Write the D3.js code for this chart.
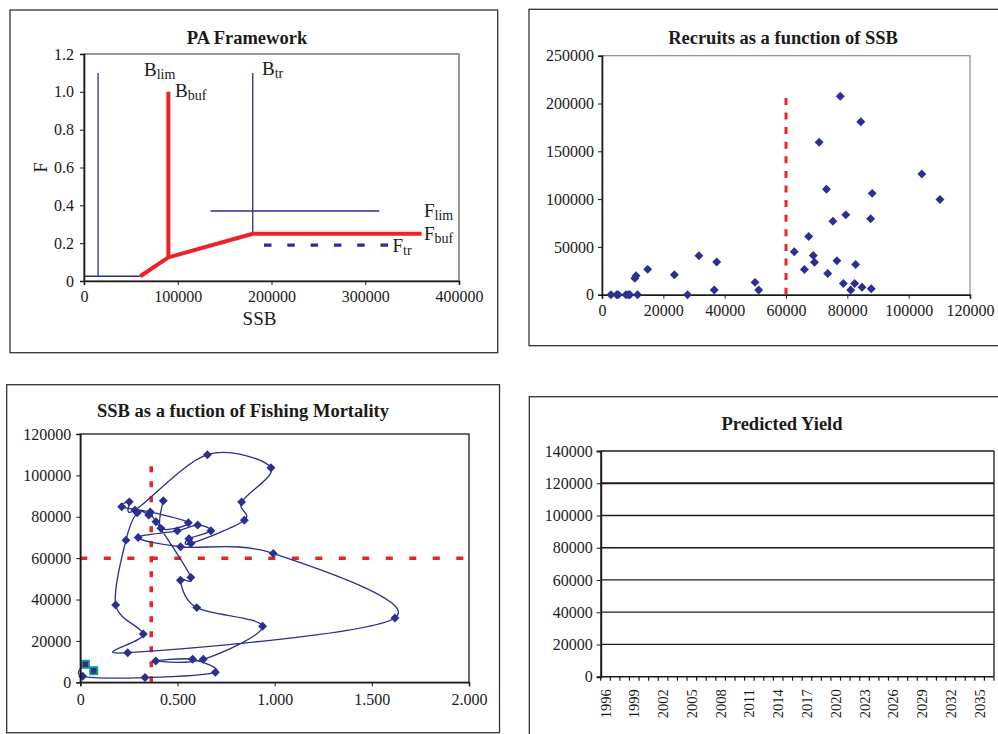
<!DOCTYPE html>
<html>
<head>
<meta charset="utf-8">
<script src="https://cdnjs.cloudflare.com/ajax/libs/d3/7.8.5/d3.min.js"></script>
<style>
  body { margin: 0; background: #fff; }
  svg, svg text { font-family: "Liberation Serif", "DejaVu Serif", serif; }
</style>
</head>
<body>
<svg id="chart" width="998" height="734"></svg>
<script>
// ---- PA framework (top left)
var paHcrSSB = [60000, 90000, 180000, 360000];
var paHcrF = [0.025, 0.125, 0.25, 0.25];
var paBbufSSB = [90000, 90000];
var paBbufF = [0.125, 1.0];
var paBlimSSB = [15000, 15000];
var paBlimF = [0.025, 1.1];
var paFloorSSB = [0, 60000];
var paFloorF = [0.025, 0.025];
var paBtrSSB = [180000, 180000];
var paBtrF = [0.25, 1.1];
var paFlimSSB = [135000, 315000];
var paFlimF = [0.37, 0.37];
var paFtrSSB = [192000, 325000];
var paFtrF = [0.19, 0.19];
var paXTicks = [0, 100000, 200000, 300000, 400000];
var paYTicks = [0, 0.2, 0.4, 0.6, 0.8, 1.0, 1.2];

// ---- recruits vs SSB (top right)
var recSSB = [2900, 4800, 5300, 7800, 8600, 9100, 10700, 11100, 11600, 14900, 23600, 27900, 31600, 37400, 36600, 49900, 51100,
  62700, 66000, 67400, 68900, 69300, 70800, 73200, 73600, 75300, 76600, 77700, 78700, 79500, 81100, 82400, 82700,
  84400, 84800, 87600, 87800, 88100, 104300, 110200];
var recR = [0, 0, 0, 0, 0, 0, 17100, 19900, 0, 26500, 20900, 0, 40800, 34200, 4900, 12900, 4900,
  45000, 26400, 60900, 41000, 34000, 159500, 110400, 22200, 76800, 35600, 207600, 11700, 83500, 4900, 11700, 31600,
  181000, 7700, 79500, 6300, 106000, 126300, 99600];
var recBlimSSB = [60000, 60000];
var recBlimR = [0, 210000];
var recXTicks = [0, 20000, 40000, 60000, 80000, 100000, 120000];
var recYTicks = [0, 50000, 100000, 150000, 200000, 250000];

// ---- SSB vs F trajectory (bottom left)
var trajF = [0.427, 0.415, 0.556, 0.360, 0.213, 0.252, 0.281, 0.654, 0.981, 0.830, 0.844, 0.569, 0.559, 0.672, 0.604,
  0.499, 0.298, 0.516, 0.993, 1.619, 0.244, 0.324, 0.182, 0.235, 0.293, 0.352, 0.389, 0.569, 0.515, 0.599,
  0.938, 0.633, 0.388, 0.578, 0.695, 0.333, 0.012, 0.026, 0.069];
var trajSSB = [87700, 74400, 77100, 82300, 84800, 87200, 83200, 110000, 103700, 87100, 78300, 67100, 69400, 73200, 76000,
  73200, 70000, 65500, 62300, 31100, 14300, 23300, 37400, 68700, 81900, 80900, 77600, 50700, 49300, 36100,
  27100, 11100, 10300, 11100, 4800, 2300, 2900, 8700, 5600];
var lastF = [0.026, 0.069];
var lastSSB = [8700, 5600];
var trajBlimF = [0, 2.0];
var trajBlimSSB = [60000, 60000];
var trajFlimF = [0.365, 0.365];
var trajFlimSSB = [0, 108000];
var trajXTicks = [0, 0.5, 1.0, 1.5, 2.0];
var trajYTicks = [0, 20000, 40000, 60000, 80000, 100000, 120000];

// ---- predicted yield (bottom right, empty in source)
var yieldYears = [1996, 1997, 1998, 1999, 2000, 2001, 2002, 2003, 2004, 2005, 2006, 2007, 2008, 2009, 2010, 2011,
  2012, 2013, 2014, 2015, 2016, 2017, 2018, 2019, 2020, 2021, 2022, 2023, 2024, 2025, 2026, 2027, 2028, 2029,
  2030, 2031, 2032, 2033, 2034, 2035, 2036];
var yieldValues = [];
var yieldYTicks = [0, 20000, 40000, 60000, 80000, 100000, 120000, 140000];

var serif = "Liberation Serif, DejaVu Serif, serif";
var navy = "#2b2f8f", red = "#ec2227", teal = "#1a9e8c", ink = "#1a1a1a";
var svg = d3.select("#chart").attr("font-family", serif);
svg.append("rect").attr("width", 998).attr("height", 734).attr("fill", "#fff");

function frame(b) {
  svg.append("rect")
    .attr("x", b[0]).attr("y", b[1])
    .attr("width", b[2] - b[0]).attr("height", b[3] - b[1])
    .attr("fill", "none").attr("stroke", "#333").attr("stroke-width", 1.3);
}

function plotBox(p, col, w) {
  svg.append("rect")
    .attr("x", p[0]).attr("y", p[1])
    .attr("width", p[2] - p[0]).attr("height", p[3] - p[1])
    .attr("fill", "none").attr("stroke", col).attr("stroke-width", w);
}

function title(x, y, txt) {
  svg.append("text").attr("x", x).attr("y", y)
    .attr("text-anchor", "middle").attr("font-weight", "bold").attr("font-family", serif)
    .attr("font-size", 18.5).attr("fill", ink).text(txt);
}

function styleAxis(g, size) {
  g.attr("font-family", serif).attr("font-size", size || 16);
  g.selectAll("text").attr("fill", ink).attr("font-family", serif);
  g.selectAll(".tick line").attr("stroke", ink);
  g.select(".domain").attr("stroke", ink).attr("stroke-width", 1.6);
}

function zipXY(xs, ys) {
  return xs.map(function(v, i) { return [v, ys[i]]; });
}

function sublabel(x, y, main, sub) {
  var t = svg.append("text").attr("x", x).attr("y", y).attr("fill", ink)
    .attr("font-family", serif).attr("font-size", 19);
  t.append("tspan").text(main);
  t.append("tspan").attr("font-size", 14).attr("dy", 3).text(sub);
}

// ================= panel 1 =================
frame([10, 10, 497.7, 352.7]);
var p1 = [84, 54, 459, 281];
var x1 = d3.scaleLinear().domain([0, 400000]).range([p1[0], p1[2]]);
var y1 = d3.scaleLinear().domain([0, 1.2]).range([p1[3], p1[1]]);
plotBox(p1, "#555", 1.2);
title(247, 44, "PA Framework");

var line1 = d3.line().x(function(d) { return x1(d[0]); }).y(function(d) { return y1(d[1]); });
var thinBlue = [zipXY(paBlimSSB, paBlimF), zipXY(paFloorSSB, paFloorF), zipXY(paBtrSSB, paBtrF), zipXY(paFlimSSB, paFlimF)];
svg.append("g").selectAll("path").data(thinBlue).enter().append("path")
  .attr("d", line1).attr("fill", "none").attr("stroke", navy).attr("stroke-width", 1.3);
svg.append("path").datum(zipXY(paFtrSSB, paFtrF)).attr("d", line1)
  .attr("fill", "none").attr("stroke", navy).attr("stroke-width", 3.3).attr("stroke-dasharray", "7.5,15.8");
svg.append("path").datum(zipXY(paHcrSSB, paHcrF)).attr("d", line1)
  .attr("fill", "none").attr("stroke", red).attr("stroke-width", 4).attr("stroke-linejoin", "round");
svg.append("path").datum(zipXY(paBbufSSB, paBbufF)).attr("d", line1)
  .attr("fill", "none").attr("stroke", red).attr("stroke-width", 4);

var ax1 = svg.append("g").attr("transform", "translate(0," + p1[3] + ")")
  .call(d3.axisBottom(x1).tickValues(paXTicks).tickSize(4).tickPadding(6).tickFormat(d3.format("d")));
styleAxis(ax1);
var ay1 = svg.append("g").attr("transform", "translate(" + p1[0] + ",0)")
  .call(d3.axisLeft(y1).tickValues(paYTicks).tickSize(4).tickPadding(6)
    .tickFormat(function(d) { return d === 0 ? "0" : d3.format(".1f")(d); }));
styleAxis(ay1);

svg.append("text").attr("x", x1(200000) - 12).attr("y", 325).attr("text-anchor", "middle")
  .attr("font-family", serif).attr("font-size", 19).attr("fill", ink).text("SSB");
svg.append("text").attr("transform", "translate(46.5," + y1(0.6) + ") rotate(-90)")
  .attr("text-anchor", "middle").attr("font-family", serif).attr("font-size", 19).attr("fill", ink).text("F");

sublabel(144, 76, "B", "lim");
sublabel(175, 96.5, "B", "buf");
sublabel(262, 75, "B", "tr");
sublabel(424, 216.5, "F", "lim");
sublabel(424, 240, "F", "buf");
sublabel(392.5, 251.5, "F", "tr");

// ================= panel 2 =================
frame([529, 9.3, 1005, 345.7]);
var p2 = [602, 55.7, 970, 294.7];
var x2 = d3.scaleLinear().domain([0, 120000]).range([p2[0], p2[2]]);
var y2 = d3.scaleLinear().domain([0, 250000]).range([p2[3], p2[1]]);
plotBox(p2, "#8c8c8c", 1.2);
title(783, 44, "Recruits as a function of SSB");

var ax2 = svg.append("g").attr("transform", "translate(0," + p2[3] + ")")
  .call(d3.axisBottom(x2).tickValues(recXTicks).tickSize(4).tickPadding(6).tickFormat(d3.format("d")));
styleAxis(ax2);
var ay2 = svg.append("g").attr("transform", "translate(" + p2[0] + ",0)")
  .call(d3.axisLeft(y2).tickValues(recYTicks).tickSize(4).tickPadding(4).tickFormat(d3.format("d")));
styleAxis(ay2);

var line2 = d3.line().x(function(d) { return x2(d[0]); }).y(function(d) { return y2(d[1]); });
svg.append("path").datum(zipXY(recBlimSSB, recBlimR)).attr("d", line2)
  .attr("fill", "none").attr("stroke", red).attr("stroke-width", 3).attr("stroke-dasharray", "7,7.6");

var diamond = d3.symbol().type(d3.symbolSquare).size(40);
svg.append("g").selectAll("path").data(zipXY(recSSB, recR)).enter().append("path")
  .attr("d", diamond)
  .attr("transform", function(d) { return "translate(" + x2(d[0]) + "," + y2(d[1]) + ") rotate(45)"; })
  .attr("fill", navy);

// ================= panel 3 =================
frame([6.7, 384.7, 499.5, 732.7]);
var p3 = [80.3, 434, 469, 682.3];
var x3 = d3.scaleLinear().domain([0, 2.0]).range([p3[0], p3[2]]);
var y3 = d3.scaleLinear().domain([0, 120000]).range([p3[3], p3[1]]);
plotBox(p3, ink, 1.3);
title(243, 417, "SSB as a fuction of Fishing Mortality");

var line3 = d3.line().x(function(d) { return x3(d[0]); }).y(function(d) { return y3(d[1]); });
svg.append("path").datum(zipXY(trajBlimF, trajBlimSSB)).attr("d", line3)
  .attr("fill", "none").attr("stroke", red).attr("stroke-width", 3.5).attr("stroke-dasharray", "7,16.5");
svg.append("path").datum(zipXY(trajFlimF, trajFlimSSB)).attr("d", line3)
  .attr("fill", "none").attr("stroke", red).attr("stroke-width", 3.5).attr("stroke-dasharray", "6,9");

var smooth3 = d3.line().curve(d3.curveCatmullRom.alpha(0))
  .x(function(d) { return x3(d[0]); }).y(function(d) { return y3(d[1]); });
var traj = zipXY(trajF, trajSSB);
svg.append("path").datum(traj).attr("d", smooth3)
  .attr("fill", "none").attr("stroke", navy).attr("stroke-width", 1.3);
svg.append("g").selectAll("path").data(traj).enter().append("path")
  .attr("d", diamond)
  .attr("transform", function(d) { return "translate(" + x3(d[0]) + "," + y3(d[1]) + ") rotate(45)"; })
  .attr("fill", navy);
var last = svg.append("g").selectAll("g").data(zipXY(lastF, lastSSB)).enter().append("g")
  .attr("transform", function(d) { return "translate(" + x3(d[0]) + "," + y3(d[1]) + ")"; });
last.append("rect").attr("x", -4.5).attr("y", -4.5).attr("width", 9).attr("height", 9).attr("fill", teal);
last.append("rect").attr("x", -2.7).attr("y", -2.7).attr("width", 5.4).attr("height", 5.4).attr("fill", navy);

var ax3 = svg.append("g").attr("transform", "translate(0," + p3[3] + ")")
  .call(d3.axisBottom(x3).tickValues(trajXTicks).tickSize(4).tickPadding(7)
    .tickFormat(function(d) { return d === 0 ? "0" : d3.format(".3f")(d); }));
styleAxis(ax3);
var ay3 = svg.append("g").attr("transform", "translate(" + p3[0] + ",0)")
  .call(d3.axisLeft(y3).tickValues(trajYTicks).tickSize(4).tickPadding(5).tickFormat(d3.format("d")));
styleAxis(ay3);

// ================= panel 4 =================
frame([529.3, 396.7, 1005, 740]);
var p4 = [600.7, 451, 994, 676.7];
var x4 = d3.scaleBand().domain(yieldYears).range([p4[0], p4[2]]);
var y4 = d3.scaleLinear().domain([0, 140000]).range([p4[3], p4[1]]);
title(782, 430, "Predicted Yield");

svg.append("g").selectAll("line").data(yieldYTicks.slice(1)).enter().append("line")
  .attr("x1", p4[0]).attr("x2", p4[2])
  .attr("y1", function(d) { return y4(d); }).attr("y2", function(d) { return y4(d); })
  .attr("stroke", ink).attr("stroke-width", function(d) { return d === 120000 ? 2 : 1.3; });
svg.append("line").attr("x1", p4[2]).attr("x2", p4[2]).attr("y1", p4[1]).attr("y2", p4[3])
  .attr("stroke", ink).attr("stroke-width", 1.3);

// empty yield series (no values in the source chart)
svg.append("path").datum(yieldValues)
  .attr("d", d3.line().x(function(d, i) { return x4(yieldYears[i]) + x4.bandwidth() / 2; }).y(function(d) { return y4(d); }))
  .attr("fill", "none").attr("stroke", navy);

var ay4 = svg.append("g").attr("transform", "translate(" + p4[0] + ",0)")
  .call(d3.axisLeft(y4).tickValues(yieldYTicks).tickSize(4).tickPadding(4).tickFormat(d3.format("d")));
styleAxis(ay4);
ay4.select(".domain").attr("stroke-width", 2);

svg.append("line").attr("x1", p4[0]).attr("x2", p4[2]).attr("y1", p4[3]).attr("y2", p4[3])
  .attr("stroke", ink).attr("stroke-width", 1.6);
svg.append("g").selectAll("line").data(yieldYears.concat(["end"])).enter().append("line")
  .attr("x1", function(d) { return d === "end" ? p4[2] : x4(d); })
  .attr("x2", function(d) { return d === "end" ? p4[2] : x4(d); })
  .attr("y1", p4[3]).attr("y2", p4[3] + 4)
  .attr("stroke", ink).attr("stroke-width", 1.2);
svg.append("g").selectAll("text").data(yieldYears.filter(function(d, i) { return i % 3 === 0; })).enter().append("text")
  .attr("transform", function(d) {
    return "translate(" + (x4(d) + x4.bandwidth() / 2) + "," + (p4[3] + 12.5) + ") rotate(-90)";
  })
  .attr("text-anchor", "end").attr("dy", "0.35em")
  .attr("font-family", serif).attr("font-size", 14.5).attr("fill", ink)
  .text(function(d) { return d; });
</script>
</body>
</html>
